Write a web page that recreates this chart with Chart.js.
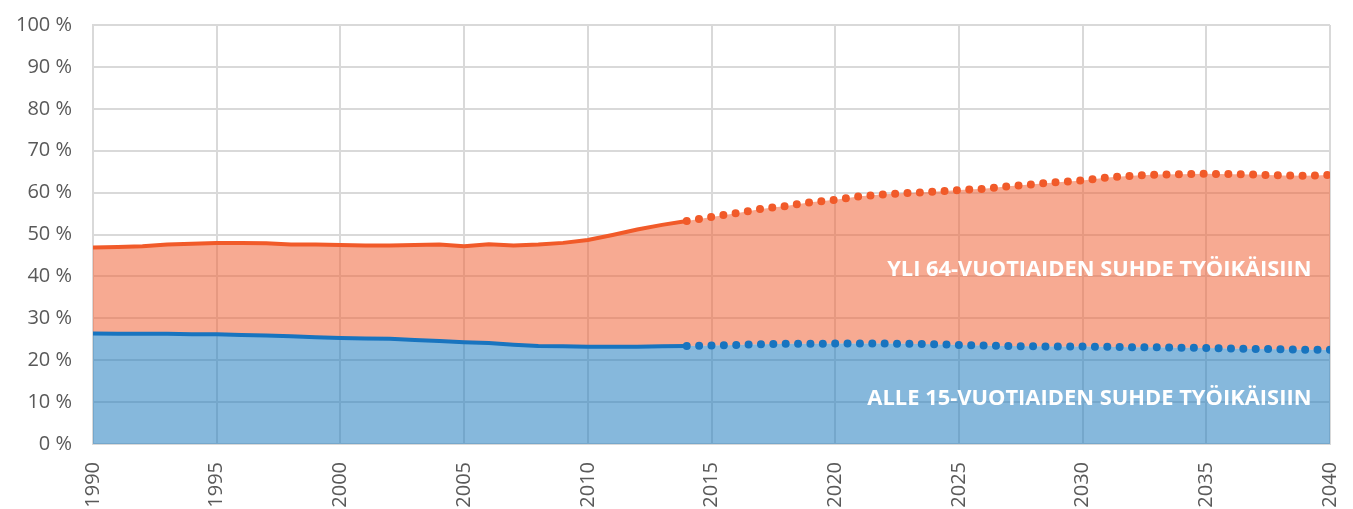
<!DOCTYPE html>
<html lang="fi">
<head>
<meta charset="utf-8">
<title>Huoltosuhde</title>
<script src="https://cdn.jsdelivr.net/npm/chart.js@4/dist/chart.umd.min.js"></script>
<style>
    html, body { margin: 0; padding: 0; background: #fff; }
    #wrap { width: 1353px; height: 509px; position: relative; }
</style>
</head>
<body>
<div id="wrap"><canvas id="huoltoChart"></canvas></div>
<script>
// Vuodet 1990-2040 (ennuste alkaa 2014)
const vuodet = [
    1990, 1991, 1992, 1993, 1994, 1995, 1996, 1997, 1998, 1999,
    2000, 2001, 2002, 2003, 2004, 2005, 2006, 2007, 2008, 2009,
    2010, 2011, 2012, 2013, 2014, 2015, 2016, 2017, 2018, 2019,
    2020, 2021, 2022, 2023, 2024, 2025, 2026, 2027, 2028, 2029,
    2030, 2031, 2032, 2033, 2034, 2035, 2036, 2037, 2038, 2039,
    2040
];
const ennusteAlku = 2014;

// Alle 15-vuotiaiden suhde työikäisiin (%)
const alle15 = [
    26.4, 26.3, 26.3, 26.3, 26.2, 26.2, 26.0, 25.9, 25.7, 25.5,
    25.3, 25.2, 25.1, 24.8, 24.6, 24.3, 24.1, 23.7, 23.4, 23.3,
    23.2, 23.2, 23.2, 23.3, 23.4, 23.5, 23.65, 23.8, 23.9, 23.9,
    24.0, 24.0, 24.0, 23.9, 23.8, 23.65, 23.5, 23.4, 23.3, 23.25,
    23.25, 23.2, 23.1, 23.1, 23.0, 22.9, 22.8, 22.7, 22.6, 22.5,
    22.5
];

// Kokonaishuoltosuhde (alle 15 + yli 64), yläraja oranssille alueelle (%)
const kokonais = [
    46.9, 47.0, 47.2, 47.6, 47.8, 48.0, 48.0, 47.9, 47.6, 47.6,
    47.5, 47.4, 47.4, 47.5, 47.6, 47.2, 47.7, 47.4, 47.6, 48.0,
    48.7, 49.9, 51.2, 52.3, 53.2, 54.2, 55.1, 56.1, 56.8, 57.7,
    58.3, 59.1, 59.6, 59.9, 60.2, 60.6, 60.9, 61.5, 62.0, 62.5,
    62.9, 63.6, 64.0, 64.3, 64.4, 64.5, 64.4, 64.3, 64.1, 64.0,
    64.2
];

const yTicks = [0, 10, 20, 30, 40, 50, 60, 70, 80, 90, 100];
const xTicks = [1990, 1995, 2000, 2005, 2010, 2015, 2020, 2025, 2030, 2035, 2040];

// Tekstien paikka arvoina, leveys vuosina
const tekstit = [
    { teksti: 'YLI 64-VUOTIAIDEN SUHDE TYÖIKÄISIIN', vuosi: 2039.25, arvo: 41.7, leveys: 17.15 },
    { teksti: 'ALLE 15-VUOTIAIDEN SUHDE TYÖIKÄISIIN', vuosi: 2039.25, arvo: 10.8, leveys: 17.95 }
];

document.addEventListener('DOMContentLoaded', function() {
    const ctx = document.getElementById('huoltoChart').getContext('2d');

    const toPoints = arr => vuodet.map((v, i) => ({ x: v, y: arr[i] }));

    // Ennusteosa piirretään pisteviivana (puolen vuoden välein)
    function segmentti(ctx2, solid, dotted) {
        const x0 = vuodet[ctx2.p0DataIndex];
        return x0 >= ennusteAlku ? dotted : solid;
    }
    function pisteVali(ctx2) {
        const xs = ctx2.chart.scales.x;
        return Math.abs(xs.getPixelForValue(1990.5) - xs.getPixelForValue(1990));
    }

    // Tekstit alueiden päälle
    const tekstiPlugin = {
        id: 'aluetekstit',
        afterDatasetsDraw(chart) {
            const c = chart.ctx;
            const xs = chart.scales.x, ys = chart.scales.y;
            c.save();
            c.fillStyle = '#ffffff';
            c.font = 'bold 22px "Open Sans"';
            c.textAlign = 'right';
            c.textBaseline = 'middle';
            tekstit.forEach(t => {
                const maxW = xs.getPixelForValue(t.vuosi) - xs.getPixelForValue(t.vuosi - t.leveys);
                c.fillText(t.teksti, xs.getPixelForValue(t.vuosi), ys.getPixelForValue(t.arvo), maxW);
            });
            c.restore();
        }
    };

    // Alueet ja viivat erikseen, jotta täyttöön ei tule saumaa
    const viiva = (arr, vari) => ({
        data: toPoints(arr),
        borderColor: vari,
        borderWidth: 4,
        borderCapStyle: 'round',
        pointRadius: 0,
        fill: false,
        order: 0,
        segment: {
            borderDash: c => segmentti(c, undefined, [0, pisteVali(c)]),
            borderWidth: c => segmentti(c, 4, 8)
        }
    });

    new Chart(ctx, {
        type: 'line',
        data: {
            datasets: [
                {
                    label: 'Alle 15-vuotiaiden suhde työikäisiin',
                    data: toPoints(alle15),
                    backgroundColor: 'rgba(35,126,191,0.55)',
                    borderWidth: 0,
                    pointRadius: 0,
                    fill: 'origin',
                    order: 1
                },
                {
                    label: 'Yli 64-vuotiaiden suhde työikäisiin',
                    data: toPoints(kokonais),
                    backgroundColor: 'rgba(240,100,57,0.55)',
                    borderWidth: 0,
                    pointRadius: 0,
                    fill: 0,
                    order: 1
                },
                viiva(kokonais, '#f15a29'),
                viiva(alle15, '#1874bf')
            ]
        },
        options: {
            responsive: true,
            maintainAspectRatio: false,
            animation: false,
            layout: { padding: { top: 25, right: 23, left: 0, bottom: 0 } },
            plugins: {
                legend: { display: false },
                tooltip: { enabled: false }
            },
            scales: {
                x: {
                    type: 'linear',
                    min: 1990,
                    max: 2040,
                    afterFit: s => {
                        s.height = 65;
                        s.paddingLeft = 0;
                        s.paddingRight = 0;
                    },
                    afterBuildTicks: s => { s.ticks = xTicks.map(v => ({ value: v })); },
                    grid: { color: '#d9d9d9', lineWidth: 2, drawTicks: false },
                    border: { color: '#d9d9d9', width: 2 },
                    ticks: {
                        minRotation: 90,
                        maxRotation: 90,
                        padding: 18,
                        color: '#595959',
                        font: { family: '"Open Sans"', size: 20 },
                        callback: v => String(v)
                    }
                },
                y: {
                    min: 0,
                    max: 100,
                    afterFit: s => {
                        s.width = 93;
                        s.paddingTop = 0;
                        s.paddingBottom = 0;
                    },
                    afterBuildTicks: s => { s.ticks = yTicks.map(v => ({ value: v })); },
                    grid: { color: '#d9d9d9', lineWidth: 2, drawTicks: false },
                    border: { color: '#d9d9d9', width: 2 },
                    ticks: {
                        padding: 21,
                        color: '#595959',
                        font: { family: '"Open Sans"', size: 20 },
                        callback: v => v + ' %'
                    }
                }
            }
        },
        plugins: [tekstiPlugin]
    });
});
</script>
</body>
</html>
